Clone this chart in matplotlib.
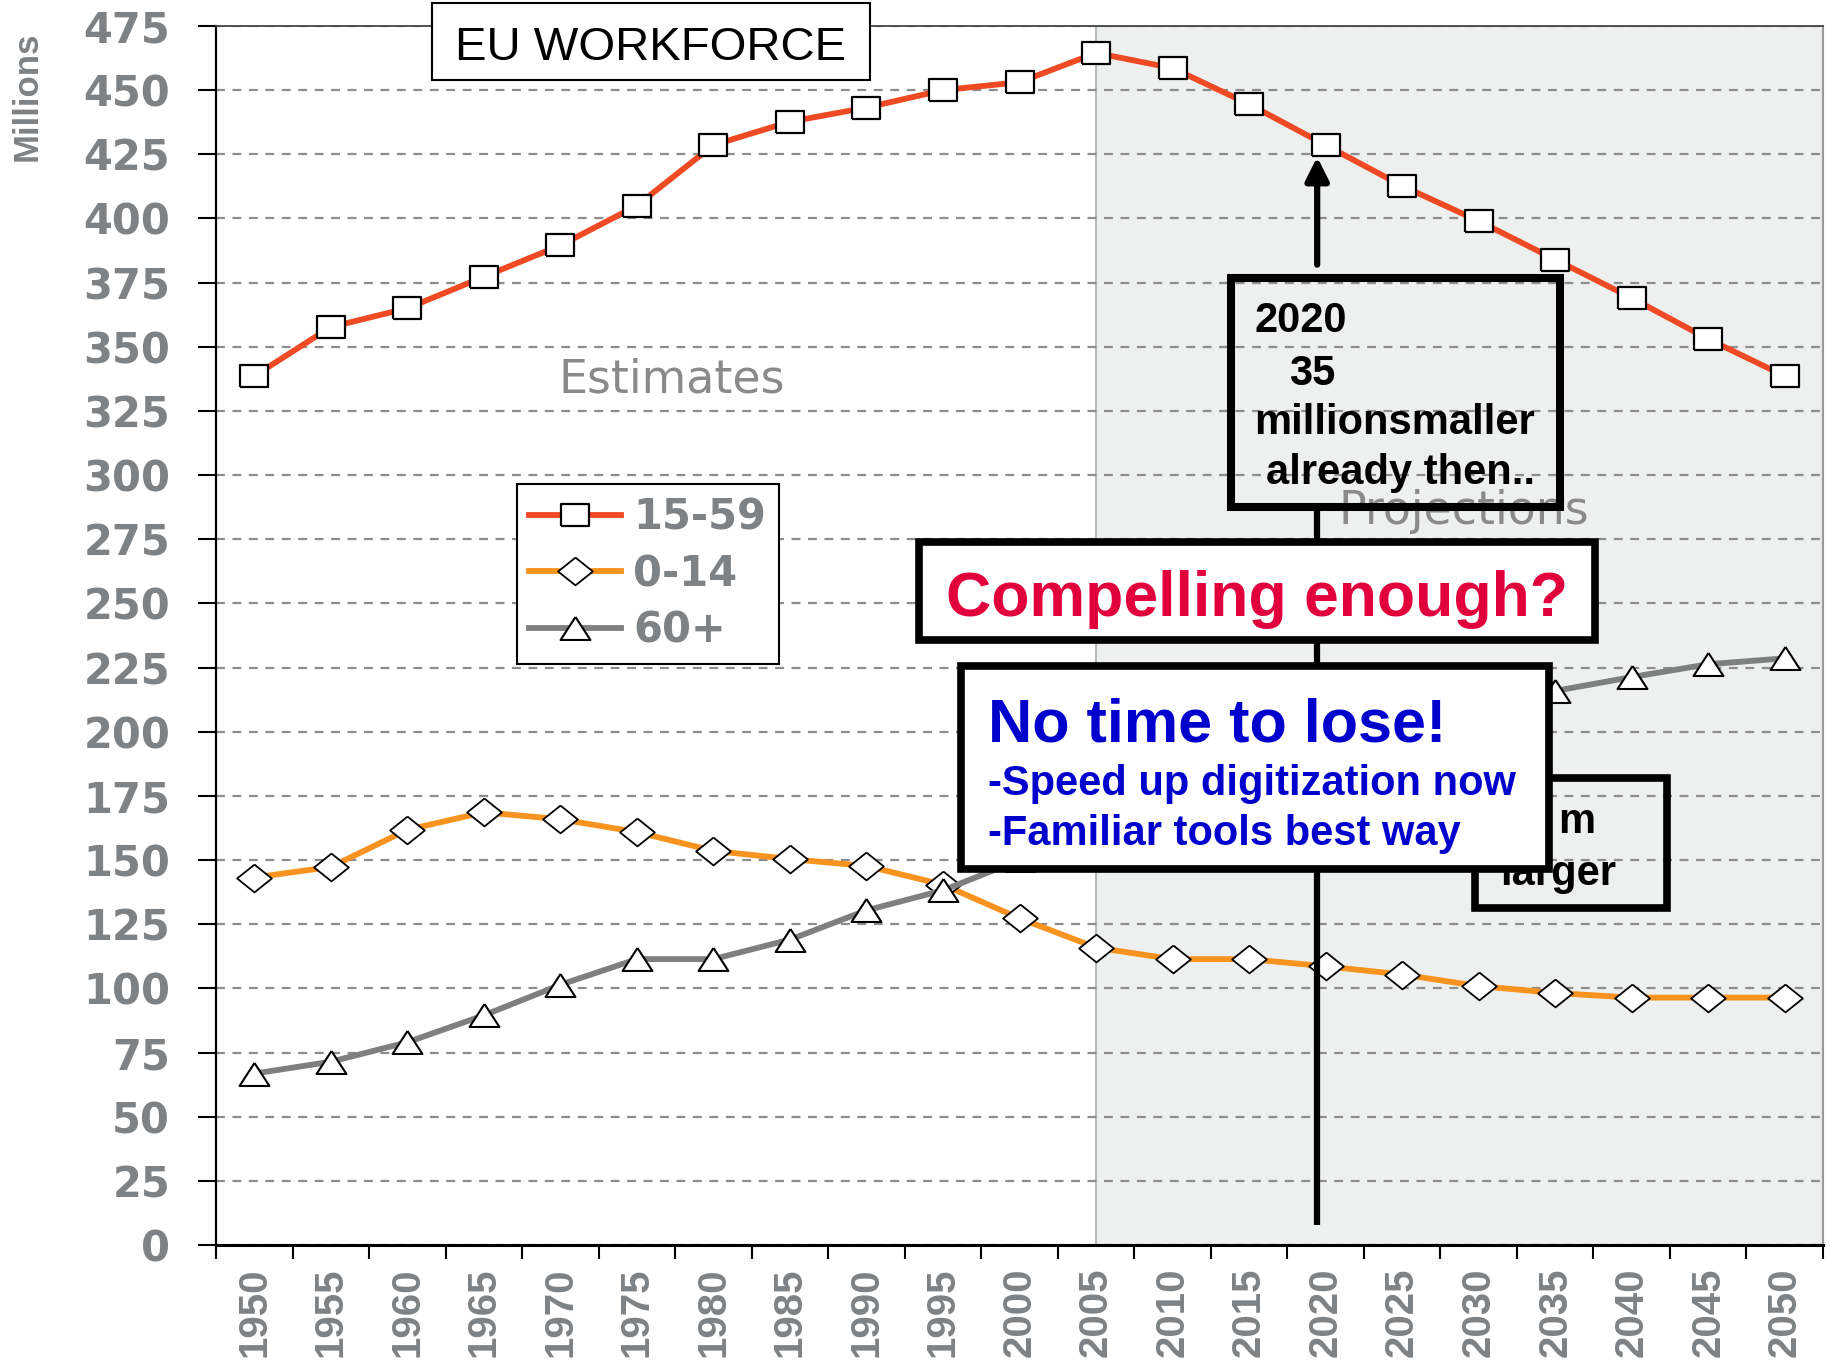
import matplotlib
matplotlib.use("Agg")
import matplotlib.pyplot as plt
from matplotlib.patches import Rectangle
from matplotlib import font_manager

years = [1950, 1955, 1960, 1965, 1970, 1975, 1980, 1985, 1990, 1995, 2000,
         2005, 2010, 2015, 2020, 2025, 2030, 2035, 2040, 2045, 2050]
age_15_59 = [338.6, 357.7, 365.0, 377.3, 389.5, 405.0, 428.6, 437.7, 443.2, 450.0, 453.1,
             464.5, 458.6, 444.5, 428.6, 412.7, 399.0, 384.0, 369.0, 353.0, 338.6]
age_0_14 = [143.2, 147.3, 161.8, 168.6, 165.9, 160.9, 153.6, 150.4, 147.7, 140.4, 127.3,
            115.9, 111.4, 111.4, 108.6, 105.4, 100.9, 98.2, 96.4, 96.4, 96.4]
age_60_plus = [66.8, 71.4, 79.0, 89.5, 101.4, 111.4, 111.4, 119.0, 130.4, 138.2, 150.0,
               161.0, 173.0, 185.0, 196.0, 204.0, 210.0, 215.9, 221.3, 226.3, 228.6]
series_labels = ["15-59", "0-14", "60+"]
yticks = list(range(0, 476, 25))

W, H = 1829, 1371
GRAY = "#7f8284"
names = {f.name for f in font_manager.fontManager.ttflist}
NARROW = "Liberation Sans Narrow" in names

# markers in the source are a bit wider than tall
SQUARE = [(-1.2, -1), (1.2, -1), (1.2, 1), (-1.2, 1), (-1.2, -1)]
DIAMOND = [(0, 1), (1.25, 0), (0, -1), (-1.25, 0), (0, 1)]
TRIANGLE = [(0, 1), (1.3, -1), (-1.3, -1), (0, 1)]

fig = plt.figure(figsize=(W / 100, H / 100), dpi=100)
ax = fig.add_axes([216 / W, 1 - 1245 / H, (1823 - 216) / W, (1245 - 26) / H])

x = list(range(len(years)))
ax.axvspan(11, 20.5, facecolor="#eef0ef", edgecolor="#b4bcc0", lw=1.5, zorder=0)
ax.set_axisbelow(True)
ax.yaxis.grid(True, color="#8d8d8d", lw=1.6, linestyle=(0, (4, 3.4)))

ax.plot(x, age_15_59, color="#ef4a24", lw=4.2, marker=SQUARE, ms=19.5, mfc="white",
        mec="black", mew=1.6, label=series_labels[0], zorder=3)
ax.plot(x, age_0_14, color="#f7931e", lw=4.2, marker=DIAMOND, ms=25, mfc="white",
        mec="black", mew=1.3, label=series_labels[1], zorder=3)
ax.plot(x, age_60_plus, color="#7d7f80", lw=4.2, marker=TRIANGLE, ms=21.5, mfc="white",
        mec="black", mew=1.5, label=series_labels[2], zorder=3)

ax.set_xlim(-0.5, 20.5)
ax.set_ylim(0, 475)
ax.set_yticks(yticks)
ax.tick_params(axis="y", length=13, width=1.5, pad=20, labelsize=30,
               labelcolor=GRAY, color="black")
for t in ax.get_yticklabels():
    t.set_fontweight("bold")
    t.set_family("DejaVu Sans")

ax.set_xticks([i - 0.5 for i in range(len(years) + 1)])
ax.set_xticklabels([])
ax.set_xticks(x, minor=True)
xfam, xsize = ("Liberation Sans Narrow", 36) if NARROW else ("Liberation Sans", 29)
ax.set_xticklabels([str(y) for y in years], minor=True, rotation=90,
                   fontsize=xsize, family=xfam, fontweight="bold", color=GRAY)
ax.tick_params(axis="x", which="major", length=10, width=1.5, color="black")
ax.tick_params(axis="x", which="minor", length=0, pad=16)

ax.spines["left"].set_linewidth(1.6)
ax.spines["bottom"].set_linewidth(2.2)
ax.spines["top"].set_linewidth(1.3)
ax.spines["top"].set_color("#444444")
ax.spines["right"].set_color("#9a9a9a")
ax.spines["right"].set_linewidth(1.5)

leg = ax.legend(loc="upper left", bbox_to_anchor=(0.1872, 0.6243), borderaxespad=0,
                fancybox=False, framealpha=1, edgecolor="black", numpoints=1,
                handlelength=2.2, handletextpad=0.3, borderpad=0.3, labelspacing=0.35,
                prop={"family": "DejaVu Sans", "weight": "bold", "size": 30},
                labelcolor=GRAY)
leg.get_frame().set_linewidth(1.5)

ax.text(5.45, 332, "Estimates", ha="center", va="baseline", fontsize=33,
        color="#8a8a8a", family="DejaVu Sans", zorder=2)
ax.text(15.81, 281, "Projections", ha="center", va="baseline", fontsize=33,
        color="#8a8a8a", family="DejaVu Sans", zorder=2)

# pointer to 2020: arrow above the note, plain line below it
ax.annotate("", xy=(13.89, 424), xytext=(13.89, 382),
            arrowprops=dict(arrowstyle="-|>,head_length=14,head_width=7",
                            lw=4.5, color="black", shrinkA=0, shrinkB=0,
                            mutation_scale=1), zorder=4)
ax.plot([13.89, 13.89], [286, 7.7], color="black", lw=4.5, solid_capstyle="butt", zorder=4)

fig.text(27 / W, 1 - 96 / H, "Millions", rotation=90, ha="center", va="center",
         fontsize=25, family="Liberation Sans", fontweight="bold", color=GRAY)


def box(x0, y0, x1, y1, lw, face="none", z=5):
    fig.add_artist(Rectangle((x0 / W, 1 - y1 / H), (x1 - x0) / W, (y1 - y0) / H,
                             transform=fig.transFigure, facecolor=face,
                             edgecolor="black", lw=lw, zorder=z))


def label(px, py, s, z=6, **kw):
    fig.text(px / W, 1 - py / H, s, va="baseline", zorder=z,
             family=["Liberation Sans", "DejaVu Sans"], **kw)


# title box
box(432, 3, 870, 80, 1.5, face="white", z=5)
label(651, 60, "EU WORKFORCE", ha="center", fontsize=34)

# 2020 note
box(1231, 278, 1560, 507, 5.8)
bold = dict(fontweight="bold", fontsize=30, color="black")
label(1254, 332, "2020", **bold)
label(1289, 385, "35", **bold)
label(1254, 434, "millionsmaller", **bold)
label(1266, 484, "already then..", **bold)

# note hidden behind
box(1475, 778, 1667, 908, 5.5, z=5)
label(1558, 833, "m", z=5, **bold)
label(1500, 885, "larger", z=5, **bold)

# compelling
box(919, 542, 1595, 640, 5.5, face="white", z=7)
label(1257, 616, "Compelling enough?", z=8, ha="center", fontsize=45,
      fontweight="bold", color="#e2003c")

# no time to lose
box(961, 666, 1549, 869, 5.5, face="white", z=7)
blue = "#0000cc"
label(988, 741, "No time to lose!", z=8, fontsize=44, fontweight="bold", color=blue)
label(988, 795, "-Speed up digitization now", z=8, fontsize=30, fontweight="bold", color=blue)
label(988, 845, "-Familiar tools best way", z=8, fontsize=30, fontweight="bold", color=blue)

fig.savefig("out.png", dpi=100)
